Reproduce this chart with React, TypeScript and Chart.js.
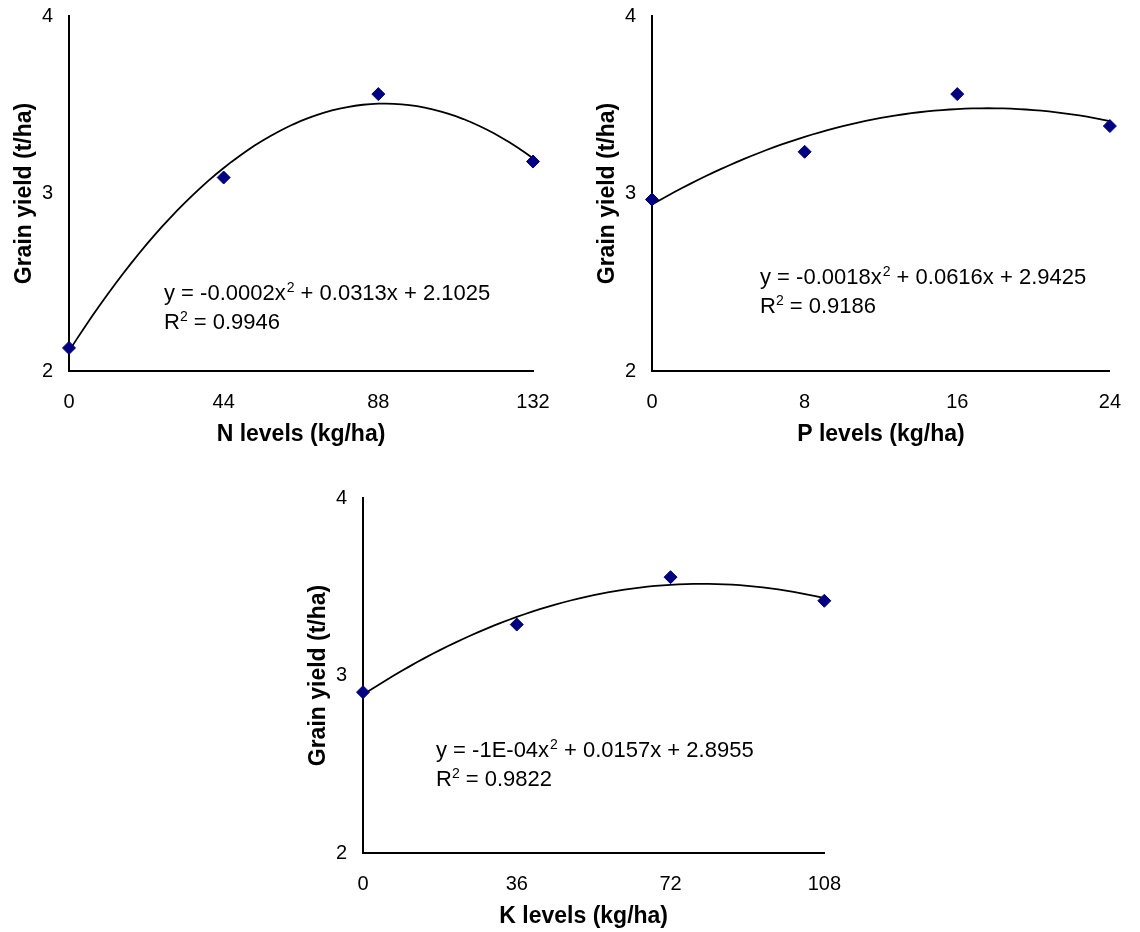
import { useEffect, useRef } from "react";
import { Chart, registerables } from "chart.js";

Chart.register(...registerables);

const FONT = "'Liberation Sans', Arial, Helvetica, sans-serif";

// Nitrogen trial
const nLevels = [0, 44, 88, 132];
const nYield = [2.13, 3.09, 3.56, 3.18];
const nTicks = [0, 44, 88, 132];

// Phosphorus trial
const pLevels = [0, 8, 16, 24];
const pYield = [2.966, 3.235, 3.56, 3.38];
const pTicks = [0, 8, 16, 24];

// Potassium trial
const kLevels = [0, 36, 72, 108];
const kYield = [2.906, 3.287, 3.554, 3.421];
const kTicks = [0, 36, 72, 108];

const yieldTicks = [2, 3, 4];

// Trendline equation labels (coefficient text before/after the x² term, and R²)
const nEquation = ["y = -0.0002x", " + 0.0313x + 2.1025", "0.9946"];
const pEquation = ["y = -0.0018x", " + 0.0616x + 2.9425", "0.9186"];
const kEquation = ["y = -1E-04x", " + 0.0157x + 2.8955", "0.9822"];

type Panel = {
  levels: number[];
  yields: number[];
  ticks: number[];
  xTitle: string;
  equation: string[];
  box: { left: number; top: number; width: number; height: number };
  yAxisWidth: number;
  xAxisHeight: number;
  padTop: number;
  padRight: number;
  eqDx: number;
  eqDy: number;
  xTitleDx: number;
};

// The y scale reserves 27px above the plot for its top label, so each canvas
// starts 12px higher to put the plot top where it belongs.
const panels: Panel[] = [
  {
    levels: nLevels,
    yields: nYield,
    ticks: nTicks,
    xTitle: "N levels (kg/ha)",
    equation: nEquation,
    box: { left: 0, top: -12, width: 570, height: 472 },
    yAxisWidth: 69,
    xAxisHeight: 89,
    padTop: 3,
    padRight: 37,
    eqDx: 95,
    eqDy: 284,
    xTitleDx: 0,
  },
  {
    levels: pLevels,
    yields: pYield,
    ticks: pTicks,
    xTitle: "P levels (kg/ha)",
    equation: pEquation,
    box: { left: 580, top: -12, width: 560, height: 472 },
    yAxisWidth: 72,
    xAxisHeight: 89,
    padTop: 3,
    padRight: 16,
    eqDx: 108,
    eqDy: 268,
    xTitleDx: 0,
  },
  {
    levels: kLevels,
    yields: kYield,
    ticks: kTicks,
    xTitle: "K levels (kg/ha)",
    equation: kEquation,
    box: { left: 290, top: 470, width: 570, height: 462 },
    yAxisWidth: 73,
    xAxisHeight: 79,
    padTop: 3,
    padRight: 34,
    eqDx: 73,
    eqDy: 259,
    xTitleDx: -10,
  },
];

// Least-squares quadratic fit y = a x² + b x + c
function fitQuadratic(xs: number[], ys: number[]) {
  const s = [0, 0, 0, 0, 0];
  const t = [0, 0, 0];
  xs.forEach((x, i) => {
    for (let k = 0; k <= 4; k++) s[k] += Math.pow(x, k);
    for (let k = 0; k <= 2; k++) t[k] += ys[i] * Math.pow(x, k);
  });
  const m = [
    [s[4], s[3], s[2], t[2]],
    [s[3], s[2], s[1], t[1]],
    [s[2], s[1], s[0], t[0]],
  ];
  for (let i = 0; i < 3; i++) {
    let p = i;
    for (let r = i + 1; r < 3; r++) if (Math.abs(m[r][i]) > Math.abs(m[p][i])) p = r;
    [m[i], m[p]] = [m[p], m[i]];
    for (let r = 0; r < 3; r++) {
      if (r === i) continue;
      const f = m[r][i] / m[i][i];
      for (let c = i; c < 4; c++) m[r][c] -= f * m[i][c];
    }
  }
  return { a: m[0][3] / m[0][0], b: m[1][3] / m[1][1], c: m[2][3] / m[2][2] };
}

function trendPoints(xs: number[], ys: number[]) {
  const { a, b, c } = fitQuadratic(xs, ys);
  const lo = Math.min(...xs);
  const hi = Math.max(...xs);
  const steps = 60;
  const pts: { x: number; y: number }[] = [];
  for (let i = 0; i <= steps; i++) {
    const x = lo + ((hi - lo) * i) / steps;
    pts.push({ x, y: a * x * x + b * x + c });
  }
  return pts;
}

function PanelChart({ panel }: { panel: Panel }) {
  const ref = useRef<HTMLCanvasElement>(null);

  useEffect(() => {
    const canvas = ref.current;
    if (!canvas) return;

    const labels = {
      id: "panelLabels",
      afterDraw(chart: Chart) {
        const { ctx, chartArea } = chart;
        const { left, right, top, bottom } = chartArea;
        ctx.save();
        ctx.fillStyle = "#000";

        // axis titles
        ctx.font = `bold 23px ${FONT}`;
        ctx.textAlign = "center";
        ctx.textBaseline = "middle";
        ctx.fillText(panel.xTitle, (left + right) / 2 + panel.xTitleDx, bottom + 64);
        ctx.save();
        ctx.translate(left - 44, (top + bottom) / 2);
        ctx.rotate(-Math.PI / 2);
        ctx.fillText("Grain yield (t/ha)", 0, 0);
        ctx.restore();

        // trendline equation and R²
        const [pre, post, r2] = panel.equation;
        const big = `22px ${FONT}`;
        const sup = `14px ${FONT}`;
        ctx.textAlign = "left";
        ctx.textBaseline = "alphabetic";
        let x = left + panel.eqDx;
        let y = top + panel.eqDy;
        ctx.font = big;
        ctx.fillText(pre, x, y);
        x += ctx.measureText(pre).width;
        ctx.font = sup;
        ctx.fillText("2", x + 1, y - 8);
        x += ctx.measureText("2").width + 1;
        ctx.font = big;
        ctx.fillText(post, x, y);

        x = left + panel.eqDx;
        y += 29;
        ctx.fillText("R", x, y);
        x += ctx.measureText("R").width;
        ctx.font = sup;
        ctx.fillText("2", x, y - 8);
        x += ctx.measureText("2").width;
        ctx.font = big;
        ctx.fillText(" = " + r2, x, y);
        ctx.restore();
      },
    };

    const chart = new Chart(canvas, {
      type: "scatter",
      data: {
        datasets: [
          {
            data: panel.levels.map((x, i) => ({ x, y: panel.yields[i] })),
            pointStyle: "rectRot",
            pointRadius: 6.5,
            pointBackgroundColor: "#000080",
            pointBorderColor: "#000080",
            pointBorderWidth: 1,
            showLine: false,
            clip: false,
          },
          {
            data: trendPoints(panel.levels, panel.yields),
            showLine: true,
            borderColor: "#000",
            borderWidth: 1.8,
            pointRadius: 0,
            tension: 0,
            clip: false,
          },
        ],
      },
      options: {
        responsive: false,
        animation: false,
        devicePixelRatio: 1,
        layout: {
          padding: { top: panel.padTop, right: panel.padRight, left: 0, bottom: 0 },
        },
        plugins: {
          legend: { display: false },
          tooltip: { enabled: false },
        },
        scales: {
          x: {
            type: "linear",
            min: panel.ticks[0],
            max: panel.ticks[panel.ticks.length - 1],
            grid: { display: false, drawTicks: false },
            border: { display: true, color: "#000", width: 2 },
            ticks: {
              color: "#000",
              font: { family: FONT, size: 20 },
              padding: 19,
              maxRotation: 0,
            },
            afterBuildTicks: (scale: any) => {
              scale.ticks = panel.ticks.map((v) => ({ value: v }));
            },
            afterFit: (scale: any) => {
              scale.height = panel.xAxisHeight;
            },
          },
          y: {
            type: "linear",
            min: yieldTicks[0],
            max: yieldTicks[yieldTicks.length - 1],
            grid: { display: false, drawTicks: false },
            border: { display: true, color: "#000", width: 2 },
            ticks: {
              color: "#000",
              font: { family: FONT, size: 20 },
              padding: 16,
            },
            afterBuildTicks: (scale: any) => {
              scale.ticks = yieldTicks.map((v) => ({ value: v }));
            },
            afterFit: (scale: any) => {
              scale.width = panel.yAxisWidth;
            },
          },
        },
      },
      plugins: [labels],
    });

    return () => chart.destroy();
  }, [panel]);

  const { left, top, width, height } = panel.box;
  return (
    <canvas
      ref={ref}
      width={width}
      height={height}
      style={{ position: "absolute", left, top, width, height }}
    />
  );
}

export default function App() {
  return (
    <div
      style={{
        position: "absolute",
        left: 0,
        top: 0,
        width: 1140,
        height: 932,
        background: "#fff",
        overflow: "hidden",
      }}
    >
      {panels.map((p, i) => (
        <PanelChart key={i} panel={p} />
      ))}
    </div>
  );
}
